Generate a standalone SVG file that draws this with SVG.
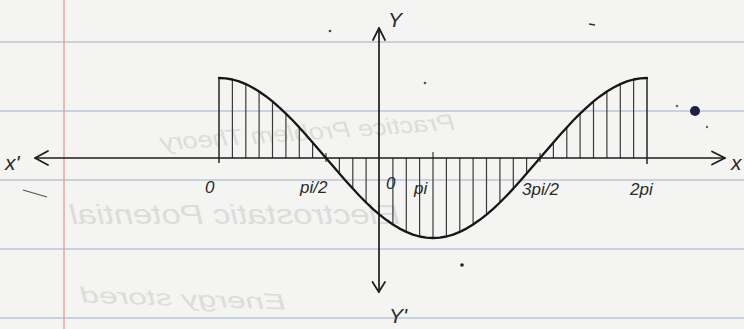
<svg xmlns="http://www.w3.org/2000/svg" width="744" height="329" viewBox="0 0 744 329">
<style>
.rule{stroke:#b9c7d6;stroke-width:1.6}
.margin{stroke:#e2a3a3;stroke-width:1.4}
.ghost{fill:#dcdcda;font-family:"Liberation Sans",sans-serif;font-style:italic}
.ax{stroke:#1c1c1c;stroke-width:1.7;fill:none;stroke-linecap:round;stroke-linejoin:round}
.curve{stroke:#161616;stroke-width:2.3;fill:none;stroke-linecap:round;stroke-linejoin:round}
.hatch{stroke:#3a3a3a;stroke-width:1.2}
.edge{stroke:#262626;stroke-width:1.5}
.lbl{fill:#2a2a2a;font-family:"Liberation Sans",sans-serif;font-style:italic;font-size:17px}
.big{font-size:21px}
</style>
<g id="paper">
<rect width="744" height="329" fill="#f4f4f2"/>
<line class="rule" x1="0" y1="42" x2="744" y2="42"/>
<line class="rule" x1="0" y1="111" x2="744" y2="111"/>
<line class="rule" x1="0" y1="180" x2="744" y2="180"/>
<line class="rule" x1="0" y1="249" x2="744" y2="249"/>
<line class="rule" x1="0" y1="318" x2="744" y2="318"/>
<line class="margin" x1="64" y1="0" x2="64" y2="329"/>
<text class="ghost" font-size="23" text-anchor="middle" textLength="295" lengthAdjust="spacingAndGlyphs" transform="translate(308,140) scale(-1,1) rotate(4)">Practice Problem Theory</text>
<text class="ghost" font-size="28" text-anchor="middle" textLength="330" lengthAdjust="spacingAndGlyphs" transform="translate(235,224) scale(-1,1)">Electrostatic Potential</text>
<text class="ghost" font-size="22" text-anchor="middle" textLength="205" lengthAdjust="spacingAndGlyphs" transform="translate(183,306) scale(-1,1) rotate(-2)">Energy stored</text>
<circle cx="695" cy="111" r="5" fill="#1b1f4a"/>
<circle cx="330" cy="31" r="1.3" fill="#444"/>
<circle cx="425" cy="83" r="1.3" fill="#555"/>
<circle cx="677" cy="106" r="1.3" fill="#666"/>
<circle cx="707" cy="127" r="1.2" fill="#666"/>
<circle cx="462" cy="265" r="1.8" fill="#222"/>
<line x1="589" y1="24" x2="595" y2="25" stroke="#333" stroke-width="1.6"/>
<line x1="23" y1="190" x2="47" y2="197" stroke="#555" stroke-width="1.3"/>
</g>
<g id="hatching">
<line class="edge" x1="219" y1="78" x2="219" y2="163"/>
<line class="hatch" x1="232.4" y1="79.5" x2="232.4" y2="158"/>
<line class="hatch" x1="245.8" y1="84.1" x2="245.8" y2="158"/>
<line class="hatch" x1="259.1" y1="91.5" x2="259.1" y2="158"/>
<line class="hatch" x1="272.5" y1="101.4" x2="272.5" y2="158"/>
<line class="hatch" x1="285.9" y1="113.6" x2="285.9" y2="158"/>
<line class="hatch" x1="299.3" y1="127.4" x2="299.3" y2="158"/>
<line class="hatch" x1="312.6" y1="142.4" x2="312.6" y2="158"/>
<line class="hatch" x1="326" y1="153" x2="326" y2="162"/>
<line class="hatch" x1="339.4" y1="158" x2="339.4" y2="173.6"/>
<line class="hatch" x1="352.8" y1="158" x2="352.8" y2="188.6"/>
<line class="hatch" x1="366.1" y1="158" x2="366.1" y2="202.5"/>
<line class="hatch" x1="392.9" y1="158" x2="392.9" y2="224.5"/>
<line class="hatch" x1="406.3" y1="158" x2="406.3" y2="231.9"/>
<line class="hatch" x1="419.6" y1="158" x2="419.6" y2="236.5"/>
<line class="hatch" x1="433" y1="152" x2="433" y2="238"/>
<line class="hatch" x1="446.4" y1="158" x2="446.4" y2="236.5"/>
<line class="hatch" x1="459.8" y1="158" x2="459.8" y2="231.9"/>
<line class="hatch" x1="473.1" y1="158" x2="473.1" y2="224.5"/>
<line class="hatch" x1="486.5" y1="158" x2="486.5" y2="214.6"/>
<line class="hatch" x1="499.9" y1="158" x2="499.9" y2="202.5"/>
<line class="hatch" x1="513.3" y1="158" x2="513.3" y2="188.6"/>
<line class="hatch" x1="526.6" y1="158" x2="526.6" y2="173.6"/>
<line class="hatch" x1="540" y1="153" x2="540" y2="162"/>
<line class="hatch" x1="553.4" y1="142.4" x2="553.4" y2="158"/>
<line class="hatch" x1="566.8" y1="127.4" x2="566.8" y2="158"/>
<line class="hatch" x1="580.1" y1="113.6" x2="580.1" y2="158"/>
<line class="hatch" x1="593.5" y1="101.4" x2="593.5" y2="158"/>
<line class="hatch" x1="606.9" y1="91.5" x2="606.9" y2="158"/>
<line class="hatch" x1="620.3" y1="84.1" x2="620.3" y2="158"/>
<line class="hatch" x1="633.6" y1="79.5" x2="633.6" y2="158"/>
<line class="edge" x1="647" y1="78" x2="647" y2="164"/>
</g>
<g id="axes">
<line class="ax" x1="35" y1="158" x2="725" y2="158"/>
<polyline class="ax" points="48,151 35,158 48,165"/>
<polyline class="ax" points="712,151.5 725,158 712,164.5"/>
<line class="ax" x1="379" y1="28" x2="379" y2="292"/>
<polyline class="ax" points="373,40 379,28 385,40"/>
<polyline class="ax" points="372.5,282 378.8,292 385,282"/>
</g>
<g id="curve">
<path class="curve" d="M219,78 L225.7,78.4 232.4,79.5 239.1,81.4 245.8,84.1 252.4,87.5 259.1,91.5 265.8,96.2 272.5,101.4 279.2,107.3 285.9,113.6 292.6,120.3 299.3,127.4 305.9,134.8 312.6,142.4 319.3,150.2 326,158 332.7,165.8 339.4,173.6 346.1,181.2 352.8,188.6 359.4,195.7 366.1,202.5 372.8,208.8 379.5,214.6 386.2,219.8 392.9,224.5 399.6,228.6 406.3,231.9 412.9,234.6 419.6,236.5 426.3,237.6 433,238 439.7,237.6 446.4,236.5 453.1,234.6 459.8,231.9 466.4,228.6 473.1,224.5 479.8,219.8 486.5,214.6 493.2,208.8 499.9,202.5 506.6,195.7 513.3,188.6 519.9,181.2 526.6,173.6 533.3,165.8 540,158 546.7,150.2 553.4,142.4 560.1,134.8 566.8,127.4 573.4,120.3 580.1,113.6 586.8,107.3 593.5,101.4 600.2,96.2 606.9,91.5 613.6,87.5 620.3,84.1 626.9,81.4 633.6,79.5 640.3,78.4 647,78"/>
</g>
<g id="labels">
<text class="lbl big" x="5" y="170">x'</text>
<text class="lbl big" x="731" y="170">x</text>
<text class="lbl big" x="388" y="27">Y</text>
<text class="lbl big" x="389" y="323">Y'</text>
<text class="lbl" x="205" y="193">0</text>
<text class="lbl" x="300" y="193">pi/2</text>
<text class="lbl" x="386" y="189">0</text>
<text class="lbl" x="414" y="194">pi</text>
<text class="lbl" x="522" y="195">3pi/2</text>
<text class="lbl" x="630" y="195">2pi</text>
</g>
</svg>
